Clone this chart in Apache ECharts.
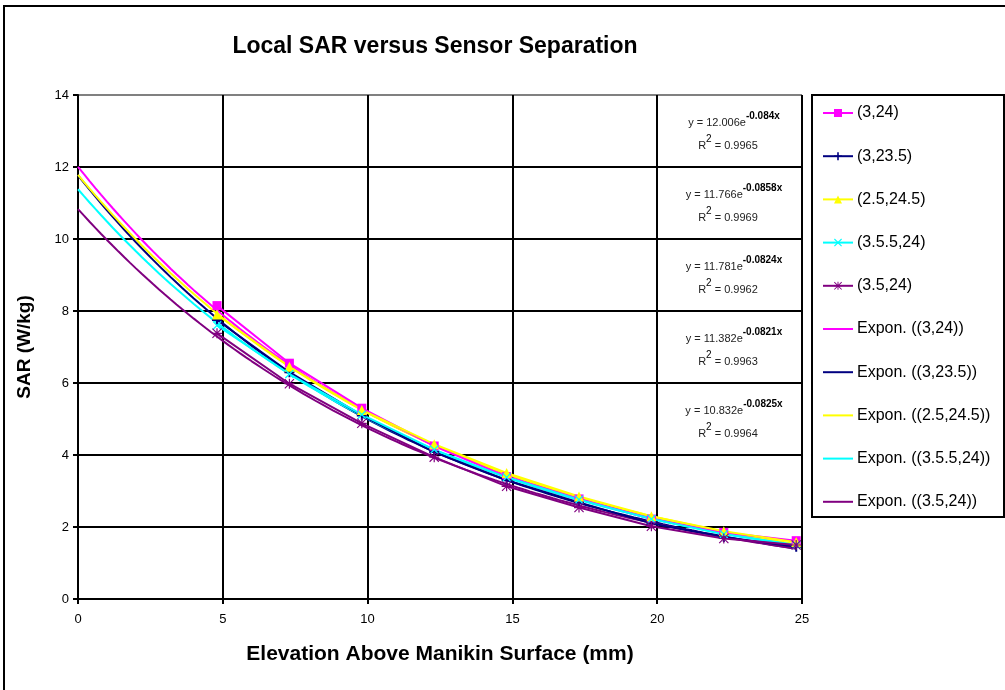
<!DOCTYPE html>
<html>
<head>
<meta charset="utf-8">
<script src="https://cdn.jsdelivr.net/npm/echarts@6/dist/echarts.min.js"></script>
<style>
  html, body { margin: 0; padding: 0; background: #fff; }
  #chart { width: 1005px; height: 690px; }
</style>
</head>
<body>
<div id="chart"></div>
<script>
// Measured positions above the manikin surface (mm)
const elevations = [4.8, 7.3, 9.8, 12.3, 14.8, 17.3, 19.8, 22.3, 24.8];

// Sensor separation configurations
const seriesNames = ['(3,24)', '(3,23.5)', '(2.5,24.5)', '(3.5.5,24)', '(3.5,24)'];

// Measured local SAR (W/kg) per configuration
const sar_3_24     = [8.15, 6.55, 5.30, 4.25, 3.40, 2.78, 2.22, 1.85, 1.62];
const sar_3_23_5   = [7.75, 6.30, 5.10, 4.08, 3.30, 2.68, 2.10, 1.72, 1.45];
const sar_2_5_24_5 = [7.90, 6.45, 5.25, 4.30, 3.50, 2.85, 2.30, 1.88, 1.58];
const sar_3_5_5_24 = [7.60, 6.25, 5.12, 4.15, 3.38, 2.76, 2.22, 1.80, 1.50];
const sar_3_5_24   = [7.38, 5.98, 4.88, 3.94, 3.13, 2.54, 2.02, 1.68, 1.50];
const measured = [sar_3_24, sar_3_23_5, sar_2_5_24_5, sar_3_5_5_24, sar_3_5_24];

// Exponential trendline fits y = a * e^(-k x)
const fitA  = [12.006, 11.766, 11.781, 11.382, 10.832];
const fitK  = [0.084, 0.0858, 0.0824, 0.0821, 0.0825];
const fitR2 = ['0.9965', '0.9969', '0.9962', '0.9963', '0.9964'];
const fitRange = [0, 24.8];

// Axis ticks
const xTicks = { min: 0, max: 25, step: 5 };
const yTicks = { min: 0, max: 14, step: 2 };

const colors = ['#FF00FF', '#000080', '#FFFF00', '#00FFFF', '#800080'];
const symbols = [
  'rect',
  'path://M4,0L6,0L6,4L10,4L10,6L6,6L6,10L4,10L4,6L0,6L0,4L4,4Z',
  'triangle',
  'path://M0,1L1,0L5,4L9,0L10,1L6,5L10,9L9,10L5,6L1,10L0,9L4,5Z',
  'path://M4.4,0H5.6V10H4.4Z M0,4.4H10V5.6H0Z M0,0.8L0.8,0L10,9.2L9.2,10Z M9.2,0L10,0.8L0.8,10L0,9.2Z'
];
const symbolSizes = [9, 10, 10, 9, 10];

const FONT = 'Liberation Sans, Arial, sans-serif';

function fitCurve(i) {
  const pts = [];
  const n = 124;
  for (let j = 0; j <= n; j++) {
    const x = fitRange[0] + (fitRange[1] - fitRange[0]) * j / n;
    pts.push([x, fitA[i] * Math.exp(-fitK[i] * x)]);
  }
  return pts;
}

const series = [];
const legendData = [];
measured.forEach((vals, i) => {
  series.push({
    name: seriesNames[i],
    type: 'line',
    data: elevations.map((x, j) => [x, vals[j]]),
    symbol: symbols[i],
    symbolSize: symbolSizes[i],
    showAllSymbol: true,
    lineStyle: { color: colors[i], width: 2 },
    itemStyle: { color: colors[i] },
    emphasis: { disabled: true },
    animation: false,
    z: 3
  });
  legendData.push({ name: seriesNames[i] });
});
fitA.forEach((a, i) => {
  const name = 'Expon. (' + seriesNames[i] + ')';
  series.push({
    name: name,
    type: 'line',
    data: fitCurve(i),
    symbol: 'none',
    lineStyle: { color: colors[i], width: 2 },
    itemStyle: { color: colors[i] },
    emphasis: { disabled: true },
    animation: false,
    z: 2
  });
  // trendline entries show only the line sample
  legendData.push({
    name: name,
    itemStyle: { color: 'rgba(0,0,0,0)', borderWidth: 0, borderColor: 'rgba(0,0,0,0)' }
  });
});

// Trendline equation labels, one per band between y gridlines
const eqGraphics = [];
fitA.forEach((a, i) => {
  const bandTop = 95 + 72 * i;
  eqGraphics.push({
    type: 'text',
    x: 734, y: bandTop + 25,
    style: {
      text: '{b|y = ' + a.toFixed(3) + 'e}{s|-' + fitK[i] + 'x}',
      align: 'center', verticalAlign: 'middle',
      rich: {
        b: { fontSize: 11, fontFamily: FONT, fill: '#222', lineHeight: 17, verticalAlign: 'bottom' },
        s: { fontSize: 10, fontFamily: FONT, fontWeight: 'bold', fill: '#000', lineHeight: 11, verticalAlign: 'top' }
      }
    }
  });
  eqGraphics.push({
    type: 'text',
    x: 728, y: bandTop + 48,
    style: {
      text: '{b|R}{s|2}{b| = ' + fitR2[i] + '}',
      align: 'center', verticalAlign: 'middle',
      rich: {
        b: { fontSize: 11, fontFamily: FONT, fill: '#222', lineHeight: 17, verticalAlign: 'bottom' },
        s: { fontSize: 10, fontFamily: FONT, fill: '#000', lineHeight: 12, verticalAlign: 'top' }
      }
    }
  });
});

const ySplitColors = [];
for (let v = yTicks.min; v <= yTicks.max; v += yTicks.step) {
  ySplitColors.push(v === yTicks.max ? '#808080' : '#000000');
}

const chart = echarts.init(document.getElementById('chart'), null, { renderer: 'canvas' });
chart.setOption({
  backgroundColor: '#ffffff',
  animation: false,
  title: {
    text: 'Local SAR versus Sensor Separation',
    left: 430, top: 30, textAlign: 'center',
    textStyle: { fontFamily: FONT, fontSize: 23, fontWeight: 'bold', color: '#000' }
  },
  grid: { left: 78, right: 203, top: 95, bottom: 91, containLabel: false },
  xAxis: {
    type: 'value',
    min: xTicks.min, max: xTicks.max, interval: xTicks.step,
    name: 'Elevation Above Manikin Surface (mm)',
    nameLocation: 'middle', nameGap: 45,
    nameTextStyle: { fontFamily: FONT, fontSize: 21, fontWeight: 'bold', color: '#000' },
    axisLine: { lineStyle: { color: '#000', width: 2 } },
    axisTick: { show: true, length: 5, lineStyle: { color: '#000', width: 2 } },
    axisLabel: { fontFamily: FONT, fontSize: 13, color: '#000', margin: 14 },
    splitLine: { show: true, lineStyle: { color: '#000', width: 2 } }
  },
  yAxis: {
    type: 'value',
    min: yTicks.min, max: yTicks.max, interval: yTicks.step,
    name: 'SAR (W/kg)',
    nameLocation: 'middle', nameGap: 44,
    nameTextStyle: { fontFamily: FONT, fontSize: 19, fontWeight: 'bold', color: '#000' },
    axisLine: { show: true, lineStyle: { color: '#000', width: 2 } },
    axisTick: { show: true, length: 5, lineStyle: { color: '#000', width: 2 } },
    axisLabel: { fontFamily: FONT, fontSize: 13, color: '#000', margin: 9 },
    splitLine: { show: true, lineStyle: { color: ySplitColors, width: 2 } }
  },
  legend: {
    orient: 'vertical',
    left: 822, top: 105,
    itemWidth: 30, itemHeight: 10, itemGap: 27.2,
    padding: 0,
    selectedMode: false,
    textStyle: { fontFamily: FONT, fontSize: 16, color: '#000', padding: [0, 0, 0, -1] },
    data: legendData
  },
  graphic: [
    {
      type: 'rect', silent: true, z: -1,
      shape: { x: 4, y: 6, width: 1100, height: 1000 },
      style: { fill: null, stroke: '#000', lineWidth: 2 }
    },
    {
      type: 'rect', silent: true,
      shape: { x: 812, y: 95, width: 192, height: 422 },
      style: { fill: null, stroke: '#000', lineWidth: 2 }
    }
  ].concat(eqGraphics),
  series: series
});
</script>
</body>
</html>
